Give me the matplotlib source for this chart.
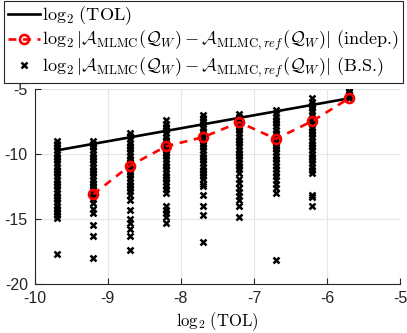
import numpy as np
import matplotlib
matplotlib.use("Agg")
import matplotlib.pyplot as plt
from matplotlib.lines import Line2D

plt.rcParams["mathtext.fontset"] = "cm"
plt.rcParams["font.family"] = ["Liberation Sans", "DejaVu Sans"]
plt.rcParams["axes.unicode_minus"] = False

# log2(TOL) levels
tol_x = [-9.7, -9.2, -8.7, -8.2, -7.7, -7.2, -6.7, -6.2, -5.7]

# independent-sample errors (red dashed), starting at the second level
indep_x = [-9.2, -8.7, -8.2, -7.7, -7.2, -6.7, -6.2, -5.7]
indep_y = [-13.08, -10.88, -9.38, -8.69, -7.54, -8.82, -7.44, -5.7]

# bootstrap errors, one list per TOL level
bs_m97 = [-8.95, -9.2, -9.45, -9.7, -9.95, -10.2, -10.45, -10.7, -10.95, -11.2,
          -11.45, -11.7, -11.95, -12.2, -12.45, -12.7, -12.95, -13.2, -13.45,
          -13.7, -13.95, -14.2, -14.45, -14.7, -14.92, -17.65]
bs_m92 = [-8.95, -9.2, -9.45, -9.7, -9.95, -10.2, -10.45, -10.7, -10.95, -11.2,
          -11.45, -11.7, -11.95, -12.2, -12.45, -12.7, -12.95, -13.2, -13.45,
          -13.75, -14.2, -14.5, -15.4, -16.25, -17.95]
bs_m87 = [-8.35, -8.6, -8.85, -9.1, -9.35, -9.6, -9.85, -10.1, -10.35, -10.6,
          -10.85, -11.1, -11.35, -11.6, -11.85, -12.1, -12.35, -12.6, -12.85,
          -13.1, -13.5, -14.3, -15.0, -15.3, -15.75, -16.25, -17.35]
bs_m82 = [-7.4, -7.65, -7.9, -8.15, -8.4, -8.65, -8.9, -9.15, -9.4, -9.65,
          -9.9, -10.15, -10.4, -10.65, -10.9, -11.15, -11.4, -11.65, -11.9,
          -12.15, -12.4, -12.65, -12.95, -13.95, -14.25, -14.55, -14.8, -15.3]
bs_m77 = [-6.95, -7.2, -7.45, -7.7, -7.95, -8.2, -8.45, -8.7, -8.95, -9.2,
          -9.45, -9.7, -9.95, -10.2, -10.45, -10.7, -10.95, -11.2, -11.45,
          -11.7, -11.9, -12.25, -12.45, -13.1, -13.95, -14.7, -16.75]
bs_m72 = [-6.9, -7.15, -7.4, -7.65, -7.9, -8.15, -8.4, -8.65, -8.9, -9.15,
          -9.4, -9.65, -9.9, -10.15, -10.4, -10.65, -10.9, -11.15, -11.45,
          -11.9, -12.2, -12.6, -12.9, -13.2, -13.5, -13.95, -14.85]
bs_m67 = [-6.6, -6.85, -7.1, -7.35, -7.6, -7.85, -8.1, -8.35, -8.6, -8.85,
          -9.1, -9.35, -9.6, -9.85, -10.1, -10.35, -10.6, -10.9, -11.1, -11.4,
          -11.7, -12.0, -12.3, -12.6, -12.95, -18.1]
bs_m62 = [-5.7, -5.95, -6.2, -6.45, -6.7, -6.95, -7.2, -7.45, -7.7, -7.95,
          -8.2, -8.45, -8.7, -8.95, -9.2, -9.45, -9.7, -9.95, -10.2, -10.45,
          -10.7, -10.95, -11.2, -11.45, -13.1, -13.3, -13.95]
bs_m57 = [-5.1, -5.25, -5.4, -5.55, -5.7]
bs_cols = [bs_m97, bs_m92, bs_m87, bs_m82, bs_m77, bs_m72, bs_m67, bs_m62, bs_m57]

fig = plt.figure(figsize=(4.07, 3.33), dpi=100)
ax = fig.add_axes([0.0853, 0.146, 0.898, 0.586])

for x, col in zip(tol_x, bs_cols):
    ax.plot(np.full(len(col), x), col, linestyle="none", marker="x",
            color="black", markersize=4.0, markeredgewidth=1.8, zorder=2)

ax.plot(tol_x, tol_x, color="black", linewidth=1.9, zorder=3)
ax.plot(indep_x, indep_y, color="red", linestyle=(0, (3, 2.5)), linewidth=1.9,
        marker="o", markersize=6.5, markerfacecolor="none",
        markeredgewidth=1.9, zorder=4)

ax.set_xlim(-10, -5)
ax.set_ylim(-20, -5)
ax.set_xticks([-10, -9, -8, -7, -6, -5])
ax.set_yticks([-20, -15, -10, -5])
ax.grid(True, color="#e6e6e6", linewidth=0.8)
ax.set_axisbelow(True)
for s in ["top", "right"]:
    ax.spines[s].set_visible(False)
for s in ["left", "bottom"]:
    ax.spines[s].set_color("#262626")
    ax.spines[s].set_linewidth(0.8)
ax.tick_params(direction="in", length=4, labelsize=11.5, colors="#262626",
               pad=5)
ax.set_xlabel(r"$\log_2\,(\mathrm{TOL})$", fontsize=12, labelpad=3)

handles = [
    Line2D([], [], color="black", linewidth=1.9),
    Line2D([], [], color="red", linestyle=(0, (3, 2.5)), linewidth=1.9,
           marker="o", markersize=6.5, markerfacecolor="none",
           markeredgewidth=1.9),
    Line2D([], [], color="black", linestyle="none", marker="x",
           markersize=4.0, markeredgewidth=1.8),
]
labels = [
    r"$\log_2\,(\mathrm{TOL})$",
    r"$\log_2|\mathcal{A}_{\mathrm{MLMC}}(\mathcal{Q}_W)-\mathcal{A}_{\mathrm{MLMC},ref}(\mathcal{Q}_W)|$ (indep.)",
    r"$\log_2|\mathcal{A}_{\mathrm{MLMC}}(\mathcal{Q}_W)-\mathcal{A}_{\mathrm{MLMC},ref}(\mathcal{Q}_W)|$ (B.S.)",
]
leg = fig.legend(handles, labels, loc="upper left",
                 bbox_to_anchor=(0.01, 0.997),
                 prop={"family": "cmr10", "size": 13.1},
                 handlelength=1.75, handletextpad=0.15, labelspacing=0.1,
                 borderpad=0.2, borderaxespad=0, fancybox=False,
                 edgecolor="#262626", framealpha=1)
leg.get_frame().set_linewidth(0.8)

fig.savefig("out.png", dpi=100)
